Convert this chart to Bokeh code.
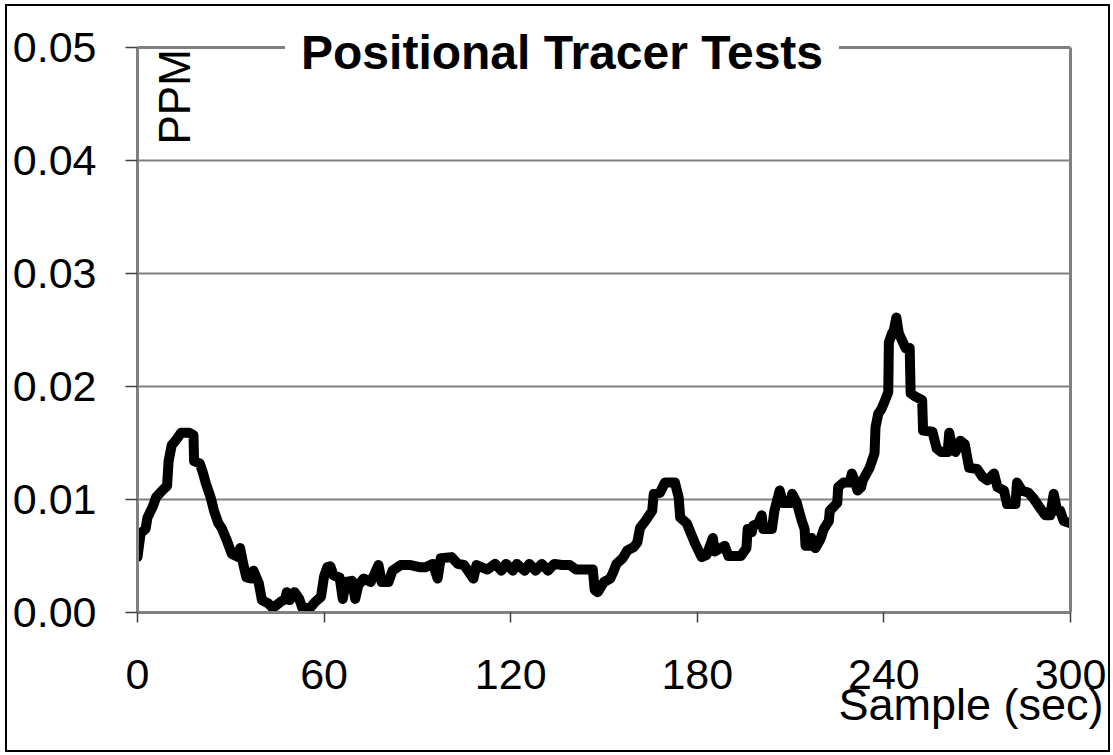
from bokeh.plotting import figure
from bokeh.models import Range1d, FixedTicker, Label, NumeralTickFormatter, LinearAxis, Span, Title
from bokeh.embed import file_html
from bokeh.resources import INLINE
import math

# ---- data ----
sample_sec = [0, 1, 2.6, 3.2, 4.8, 6, 8, 9.5, 10, 11, 12.5, 14, 16.7, 18, 18.2, 20, 21, 22, 23.5, 24.6,
              26, 27, 28.7, 30.3, 32.4, 33, 34, 35, 36.7, 37.3, 39, 40, 42, 43.5, 45.8, 47.5, 48, 49, 50.5, 52,
              53, 55.5, 57, 59, 60, 61, 62, 63, 65, 66, 67, 69, 70, 71, 72.7, 75, 77.5, 78.5, 80.7, 82,
              84.6, 87.8, 91, 92.5, 95, 96.5, 97.5, 101, 103, 105, 108, 109, 112.5, 115, 117, 118.5, 120.7, 122, 124.5, 126,
              128, 130, 132, 134, 136.5, 139, 141, 146.4, 147, 148, 150, 152, 153, 154, 156, 157.5, 159.6, 160.7, 161.6, 163.3,
              165.5, 166, 168, 169.6, 172.8, 174, 174.5, 176.6, 179.3, 181.4, 183, 185, 185.6, 188.8, 190, 194, 195.8, 196.2, 197.5, 198,
              199.6, 200.7, 201.2, 204, 204.8, 206.5, 207.6, 210, 210.5, 212, 213.6, 214.5, 214.8, 216, 216.7, 218, 219.6, 220.7, 222.3, 222.6,
              225, 225.3, 227, 229, 229.7, 230.7, 231.5, 232.7, 233.2, 235.4, 237, 237.3, 238.2, 239.2, 240.4, 241.4, 241.6, 242.6, 243.2, 244,
              244.8, 245.8, 247, 248.3, 248.6, 249.6, 252.3, 252.6, 255.6, 257, 258.4, 260.5, 261, 262, 263, 264.6, 266, 267.4, 270, 271.7,
              273.3, 275.4, 276.5, 278.6, 279.6, 282.3, 282.8, 284.4, 286.5, 288.1, 290.3, 291.9, 293.5, 294.6, 295.7, 296.7, 297.8, 300]
ppm = [0.0049, 0.0070, 0.0074, 0.0084, 0.0093, 0.0102, 0.0108, 0.0112, 0.0134, 0.0148, 0.0153, 0.0159, 0.0159, 0.0157, 0.0134, 0.0132, 0.0124, 0.0114, 0.0102, 0.0090,
       0.0079, 0.0075, 0.0064, 0.0052, 0.0049, 0.0057, 0.0043, 0.0031, 0.0030, 0.0037, 0.0026, 0.0011, 0.0008, 0.0004, 0.0009, 0.0012, 0.0018, 0.0011, 0.0018, 0.0012,
       0.0004, 0.0004, 0.0009, 0.0014, 0.0032, 0.0040, 0.0041, 0.0033, 0.0031, 0.0012, 0.0027, 0.0028, 0.0012, 0.0024, 0.0030, 0.0027, 0.0042, 0.0027, 0.0027, 0.0037,
       0.0042, 0.0042, 0.0040, 0.0040, 0.0043, 0.0030, 0.0048, 0.0049, 0.0043, 0.0042, 0.0030, 0.0042, 0.0038, 0.0043, 0.0037, 0.0043, 0.0037, 0.0043, 0.0037, 0.0043,
       0.0037, 0.0043, 0.0037, 0.0043, 0.0042, 0.0042, 0.0038, 0.0038, 0.0020, 0.0018, 0.0027, 0.0030, 0.0036, 0.0043, 0.0048, 0.0055, 0.0058, 0.0062, 0.0075, 0.0081,
       0.0090, 0.0105, 0.0106, 0.0115, 0.0115, 0.0102, 0.0084, 0.0079, 0.0061, 0.0049, 0.0051, 0.0066, 0.0054, 0.0059, 0.0050, 0.0050, 0.0057, 0.0074, 0.0071, 0.0077,
       0.0079, 0.0086, 0.0074, 0.0074, 0.0090, 0.0108, 0.0097, 0.0097, 0.0105, 0.0097, 0.0081, 0.0074, 0.0059, 0.0059, 0.0066, 0.0057, 0.0065, 0.0074, 0.0081, 0.0090,
       0.0097, 0.0111, 0.0115, 0.0115, 0.0123, 0.0116, 0.0108, 0.0111, 0.0117, 0.0128, 0.0141, 0.0164, 0.0176, 0.0180, 0.0188, 0.0195, 0.0239, 0.0247, 0.0250, 0.0261,
       0.0247, 0.0241, 0.0234, 0.0234, 0.0194, 0.0192, 0.0188, 0.0161, 0.0160, 0.0145, 0.0142, 0.0142, 0.0159, 0.0146, 0.0142, 0.0152, 0.0149, 0.0128, 0.0127, 0.0120,
       0.0117, 0.0123, 0.0111, 0.0108, 0.0096, 0.0096, 0.0115, 0.0108, 0.0106, 0.0101, 0.0092, 0.0086, 0.0086, 0.0105, 0.0090, 0.0090, 0.0081, 0.0079]
x_ticks = [0, 60, 120, 180, 240, 300]
y_ticks = [0.00, 0.01, 0.02, 0.03, 0.04, 0.05]
title_text = "Positional Tracer Tests"
y_label_text = "PPM"
x_label_text = "Sample (sec)"

FONT = "Liberation Sans"
GRAY = "#808080"
Y_TOP = 0.05 + 27 / 11300.0   # a little headroom above 0.05 so the title is not cut

p = figure(output_backend="svg", toolbar_location=None,
           frame_width=933, frame_height=592,
           min_border_left=130, min_border_right=38, min_border_top=14, min_border_bottom=138,
           x_range=Range1d(0, 300), y_range=Range1d(0, Y_TOP))
p.margin = (4, 0, 0, 5)
p.styles = {"border": "2px solid black"}
p.background_fill_color = "white"
p.border_fill_color = "white"
p.outline_line_color = None

p.xgrid.visible = False
p.ygrid.ticker = FixedTicker(ticks=y_ticks)
p.ygrid.grid_line_color = GRAY
p.ygrid.grid_line_width = 2

for ax in (p.xaxis[0], p.yaxis[0]):
    ax.axis_line_color = GRAY
    ax.axis_line_width = 3
    ax.major_tick_line_color = "#404040"
    ax.major_tick_line_width = 1.5
    ax.major_tick_in = 0
    ax.minor_tick_line_color = None
    ax.major_label_text_font = FONT
    ax.major_label_text_font_size = "43px"
    ax.major_label_text_color = "black"

p.xaxis.ticker = FixedTicker(ticks=x_ticks)
p.xaxis.major_tick_out = 10
p.xaxis.major_label_standoff = 37

p.yaxis.ticker = FixedTicker(ticks=y_ticks)
p.yaxis.formatter = NumeralTickFormatter(format="0.00")
p.yaxis.major_tick_out = 12
p.yaxis.major_label_standoff = 29
p.yaxis.bounds = (0, 0.05)

# right border of the plot area
right_ax = LinearAxis(ticker=FixedTicker(ticks=[]), bounds=(0, 0.05), axis_line_color=GRAY, axis_line_width=3,
                      major_tick_line_color=None, minor_tick_line_color=None, major_label_text_font_size="0px")
p.add_layout(right_ax, "right")

# top border of the plot area (0.05 line)
p.add_layout(Span(location=0.05, dimension="width", line_color=GRAY, line_width=3))

p.line(sample_sec, ppm, line_color="black", line_width=10, line_join="round", line_cap="round")

p.add_layout(Label(x=136.5, y=0.0496, text=title_text, text_align="center", text_baseline="alphabetic",
                   text_font=FONT, text_font_style="bold", text_font_size="48px", text_color="black",
                   background_fill_color="white", padding=16))
p.add_layout(Label(x=11.9, y=0.04141, text=y_label_text, angle=math.pi / 2, text_align="left",
                   text_baseline="alphabetic", text_font=FONT, text_font_size="44px", text_color="black"))

# x-axis caption at the lower right, overlapping the tick-label row
xcap = Title(text=x_label_text, align="right", vertical_align="top", text_font=FONT,
             text_font_size="45px", text_font_style="normal", text_color="black")
xcap.offset = -33
try:
    xcap.standoff = -25
except Exception:
    pass
p.add_layout(xcap, "below")

open("out.html", "w").write(file_html(p, INLINE))
